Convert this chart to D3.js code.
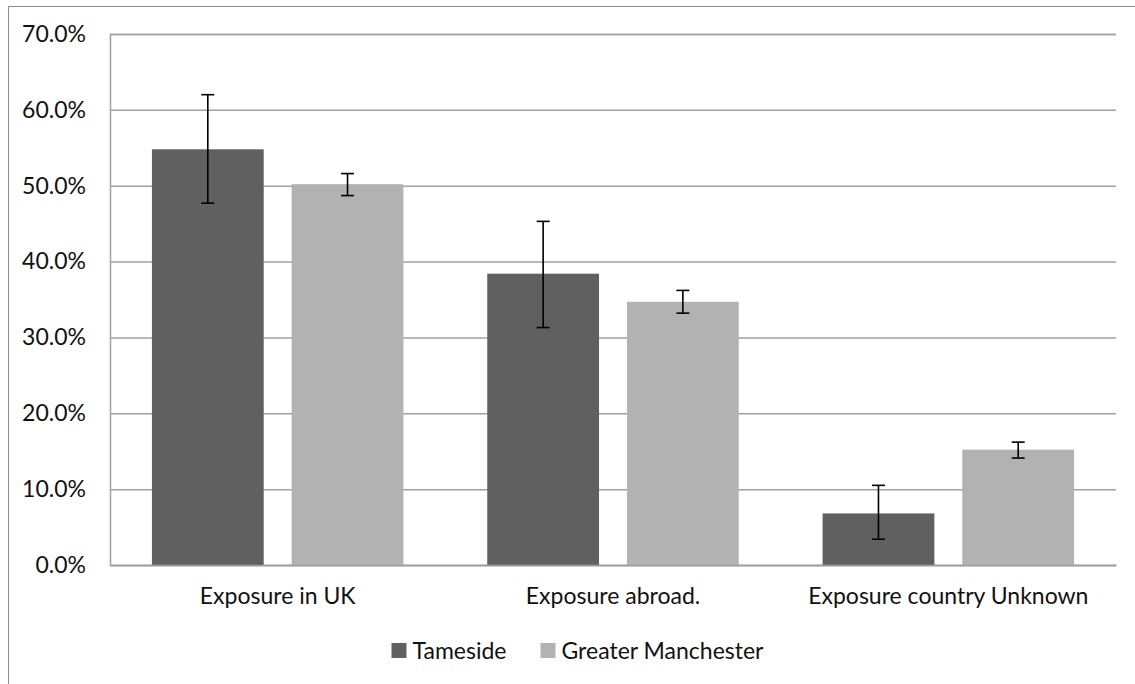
<!DOCTYPE html>
<html><head><meta charset="utf-8">
<script src="https://cdn.jsdelivr.net/npm/d3@7"></script>
<style>body{margin:0;background:#fff}svg{display:block}text{font-family:Lato,"Open Sans",sans-serif;fill:#111}</style>
</head><body><svg id="c" width="1135" height="684"></svg>
<script>
const categories = ["Exposure in UK", "Exposure abroad.", "Exposure country Unknown"];
const seriesNames = ["Tameside", "Greater Manchester"];
const tameside = [0.548, 0.384, 0.068];
const tamesideLow = [0.477, 0.313, 0.034];
const tamesideHigh = [0.620, 0.453, 0.105];
const gm = [0.502, 0.347, 0.152];
const gmLow = [0.487, 0.332, 0.141];
const gmHigh = [0.516, 0.362, 0.162];
const yTicks = [0, 0.1, 0.2, 0.3, 0.4, 0.5, 0.6, 0.7];
const colors = ["#606060", "#b2b2b2"];

const svg = d3.select("#c");
const L = 110, R = 1116, T = 34, B = 565;
const FS = 23;
const y = d3.scaleLinear().domain([0, 0.7]).range([B, T]);
const x0 = d3.scaleBand().domain(categories).range([L, R]).paddingInner(0).paddingOuter(0);
const x1 = d3.scaleBand().domain(seriesNames).range([0, x0.bandwidth()]).paddingInner(0.2).paddingOuter(0.3);

// outer frame
svg.append("path").attr("d", "M8.5,684 V6.5 H1135").attr("fill", "none").attr("stroke", "#8c8c8c").attr("stroke-width", 1);

// gridlines + y axis
const yAxis = d3.axisLeft(y).tickValues(yTicks).tickFormat(d3.format(".1%")).tickSize(-(R - L)).tickPadding(24);
const ga = svg.append("g").attr("transform", `translate(${L},0)`).call(yAxis);
ga.select(".domain").attr("stroke", "#a0a0a0").attr("stroke-width", 1.5);
ga.selectAll(".tick line").attr("stroke", "#a0a0a0").attr("stroke-width", 1.5);
ga.selectAll(".tick text").attr("font-size", FS).attr("font-family", "Lato").attr("fill", "#111");

const data = categories.map((c, i) => ({c, vals: [
  {s: seriesNames[0], v: tameside[i], lo: tamesideLow[i], hi: tamesideHigh[i]},
  {s: seriesNames[1], v: gm[i], lo: gmLow[i], hi: gmHigh[i]}]}));

const g = svg.selectAll(".cat").data(data).join("g").attr("transform", d => `translate(${x0(d.c)},0)`);
g.selectAll("rect").data(d => d.vals).join("rect")
  .attr("x", d => x1(d.s)).attr("width", x1.bandwidth())
  .attr("y", d => y(d.v)).attr("height", d => y(0) - y(d.v))
  .attr("fill", (d, i) => colors[i]);

// x axis line
const xAxis = d3.axisBottom(x0).tickSize(0).tickPadding(23);
const gx = svg.append("g").attr("transform", `translate(0,${B})`).call(xAxis);
gx.select(".domain").attr("stroke", "#a0a0a0").attr("stroke-width", 1.5);
gx.selectAll(".tick text").attr("font-size", FS).attr("font-family", "Lato").attr("fill", "#111");

// error bars
const eb = g.selectAll(".eb").data(d => d.vals).join("g").attr("class", "eb");
eb.append("line").attr("x1", d => x1(d.s) + x1.bandwidth() / 2).attr("x2", d => x1(d.s) + x1.bandwidth() / 2)
  .attr("y1", d => y(d.hi)).attr("y2", d => y(d.lo)).attr("stroke", "#000").attr("stroke-width", 1.6);
["hi", "lo"].forEach(k => {
  eb.append("line").attr("x1", d => x1(d.s) + x1.bandwidth() / 2 - 6.5).attr("x2", d => x1(d.s) + x1.bandwidth() / 2 + 6.5)
    .attr("y1", d => y(d[k])).attr("y2", d => y(d[k])).attr("stroke", "#000").attr("stroke-width", 1.6);
});

// legend
const legendX = [391.5, 540.5];
const lg = svg.selectAll(".lg").data(seriesNames).join("g").attr("transform", (d, i) => `translate(${legendX[i]},643)`);
lg.append("rect").attr("width", 15).attr("height", 15).attr("fill", (d, i) => colors[i]);
lg.append("text").attr("x", 21).attr("y", 7.5).attr("dy", "0.35em").attr("font-size", FS).text(d => d);
</script></body></html>
